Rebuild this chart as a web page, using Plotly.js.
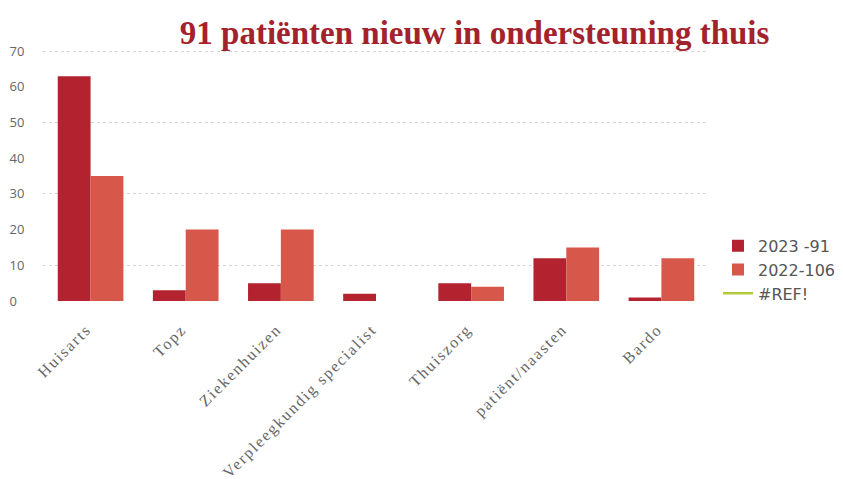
<!DOCTYPE html>
<html>
<head>
<meta charset="utf-8">
<script src="https://cdn.plot.ly/plotly-3.0.1.min.js"></script>
<style>
html,body{margin:0;padding:0;background:#fff;}
#chart{width:843px;height:479px;}
#chart .xtick text{letter-spacing:1.8px;}
</style>
</head>
<body>
<div id="chart"></div>
<script>
const categories = ["Huisarts", "Topz", "Ziekenhuizen", "Verpleegkundig specialist", "Thuiszorg", "patiënt/naasten", "Bardo"];
const values2023 = [63, 3, 5, 2, 5, 12, 1];
const values2022 = [35, 20, 20, 0, 4, 15, 12];
const valuesRef = [null, null, null, null, null, null, null];
const seriesNames = ["2023 -91", "2022-106", "#REF!"];
const yTicks = [0, 10, 20, 30, 40, 50, 60, 70];
const yTickLabels = ["0\u2007", "10", "20", "30", "40", "50", "60", "70"];
const gridValues = [10, 30, 50, 70];

const traces = [
  {type: "bar", name: seriesNames[0], x: categories, y: values2023,
   marker: {color: "#B3232F", line: {width: 0}}},
  {type: "bar", name: seriesNames[1], x: categories, y: values2022,
   marker: {color: "#D8574B", line: {width: 0}}},
  {type: "scatter", mode: "lines", name: seriesNames[2], x: categories, y: valuesRef,
   line: {color: "#B5C93A", width: 2.5}}
];

const layout = {
  width: 843, height: 479,
  paper_bgcolor: "#fff", plot_bgcolor: "#fff",
  margin: {l: 43, r: 134, t: 49, b: 178, autoexpand: false},
  title: {text: "91 patiënten nieuw in ondersteuning thuis", x: 0.563, xanchor: "center", y: 0.933, yanchor: "middle",
          font: {family: "Liberation Serif", size: 33, color: "#A3222B", weight: "bold"}},
  barmode: "group", bargap: 0.31, bargroupgap: 0,
  xaxis: {type: "category", tickangle: -45, showgrid: false, zeroline: false,
          showline: false, ticks: "", ticklabelstandoff: 15, ticklabelshift: -4,
          tickfont: {family: "Liberation Serif", size: 16, color: "#666"}},
  yaxis: {range: [0, 70.6], tickvals: yTicks, ticktext: yTickLabels, showgrid: false,
          zeroline: false, showline: false,
          ticks: "outside", ticklen: 0, ticklabelstandoff: 15,
          tickfont: {family: "Open Sans", size: 13, color: "#666"}},
  yaxis2: {range: [0, 70.6], overlaying: "y", tickvals: gridValues, showticklabels: false,
           showgrid: true, gridcolor: "#D6D6D6", griddash: "dot", gridwidth: 1, zeroline: false, showline: false},
  legend: {x: 1.0135, xanchor: "left", y: 0.124, yanchor: "middle", traceorder: "normal",
           font: {family: "DejaVu Sans", size: 16, color: "#555"}, itemwidth: 30},
  showlegend: true
};

const gridTrace = {type: "scatter", x: [categories[0]], y: [null], yaxis: "y2", showlegend: false, hoverinfo: "skip"};

Plotly.newPlot("chart", [gridTrace].concat(traces), layout, {displayModeBar: false, staticPlot: true});
</script>
</body>
</html>
